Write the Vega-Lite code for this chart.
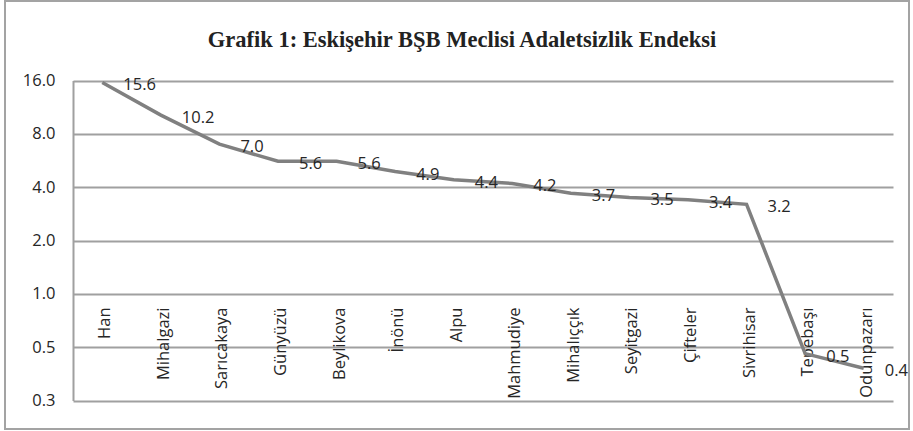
{
  "$schema": "https://vega.github.io/schema/vega-lite/v6.json",
  "width": 904,
  "height": 428,
  "autosize": {"type": "none"},
  "padding": {"left": 5, "top": 1, "right": 4, "bottom": 2},
  "background": "white",
  "config": {
    "view": {"stroke": "#a3a3a3", "strokeWidth": 2},
    "font": "Open Sans"
  },
  "title": {
    "text": "Grafik 1: Eskişehir BŞB Meclisi Adaletsizlik Endeksi",
    "font": "Liberation Serif",
    "fontSize": 22.5,
    "fontWeight": "bold",
    "color": "#222222",
    "anchor": "middle",
    "frame": "group",
    "offset": -50,
    "dx": 5
  },
  "data": {
    "values": [
      {"district": "Han", "value": 15.6},
      {"district": "Mihalgazi", "value": 10.2},
      {"district": "Sarıcakaya", "value": 7.0},
      {"district": "Günyüzü", "value": 5.6},
      {"district": "Beylikova", "value": 5.6},
      {"district": "İnönü", "value": 4.9},
      {"district": "Alpu", "value": 4.4},
      {"district": "Mahmudiye", "value": 4.2},
      {"district": "Mihalıççık", "value": 3.7},
      {"district": "Seyitgazi", "value": 3.5},
      {"district": "Çifteler", "value": 3.4},
      {"district": "Sivrihisar", "value": 3.2},
      {"district": "Tepebaşı", "value": 0.46},
      {"district": "Odunpazarı", "value": 0.38}
    ]
  },
  "encoding": {
    "x": {
      "field": "district",
      "type": "nominal",
      "sort": null,
      "scale": {"type": "band", "range": [68, 888], "paddingInner": 0, "paddingOuter": 0},
      "axis": {
        "orient": "bottom",
        "offset": -122,
        "domain": false,
        "ticks": false,
        "tickSize": 0,
        "labelPadding": 0,
        "labelAngle": 270,
        "labelAlign": "right",
        "labelBaseline": "middle",
        "labelOffset": 3,
        "labelFontSize": 16.5,
        "labelFont": "Open Sans",
        "labelColor": "#262626",
        "grid": false,
        "title": null
      }
    },
    "y": {
      "field": "value",
      "type": "quantitative",
      "scale": {"type": "log", "base": 2, "domain": [0.25, 16], "range": [399.5, 79.5]},
      "axis": {
        "values": [0.25, 0.5, 1, 2, 4, 8, 16],
        "format": ".1f",
        "offset": -68,
        "ticks": false,
        "tickSize": 0,
        "labelPadding": 18,
        "labelOverlap": false,
        "labelFontSize": 16.5,
        "labelFont": "Open Sans",
        "labelColor": "#262626",
        "domainColor": "#a0a0a0",
        "domainWidth": 2,
        "grid": true,
        "gridColor": "#a0a0a0",
        "gridWidth": 2,
        "title": null
      }
    }
  },
  "layer": [
    {"mark": {"type": "line", "color": "#808080", "strokeWidth": 3.5}},
    {
      "mark": {"type": "text", "align": "left", "baseline": "middle", "dx": 21, "dy": 3, "fontSize": 16.5, "font": "Open Sans", "color": "#262626"},
      "encoding": {"text": {"field": "value", "type": "quantitative", "format": ".1f"}}
    }
  ]
}
